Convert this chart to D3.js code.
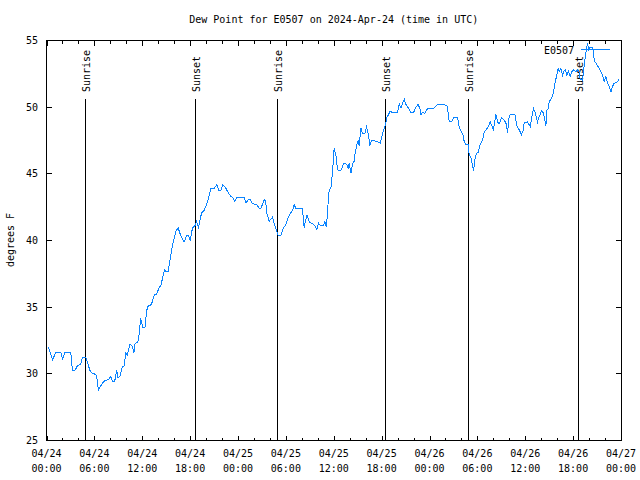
<!DOCTYPE html>
<html>
<head>
<meta charset="utf-8">
<script src="https://cdn.jsdelivr.net/npm/d3@7"></script>
<style>
  html, body { margin: 0; padding: 0; background: #fff; }
  svg { display: block; }
  text { font-family: "DejaVu Sans Mono", "Liberation Mono", monospace; font-size: 10px; fill: #000; }
</style>
</head>
<body>
<svg id="chart" width="640" height="480"></svg>
<script>
// ---- data ----
const title = "Dew Point for E0507 on 2024-Apr-24 (time in UTC)";
const yLabel = "degrees F";
const seriesName = "E0507";
// hours since 2024-04-24 00:00 UTC
const hours = [0.25,0.46,0.75,1.17,1.8,2.0,2.3,3.05,3.25,3.55,3.88,4.3,4.5,4.93,5.13,5.43,5.75,6.18,6.38,6.5,6.8,7.21,7.84,8.05,8.25,8.55,8.8,8.96,9.21,9.5,9.71,9.93,10.13,10.46,10.75,10.96,11.09,11.46,11.63,11.8,11.88,12.09,12.34,12.43,12.65,13.15,13.5,13.83,14.12,14.33,14.66,14.83,14.96,15.25,15.5,15.67,15.92,16.22,16.5,16.75,17.04,17.25,17.6,17.8,18.0,18.3,18.6,18.8,19.05,19.43,19.76,20.18,20.6,21.01,21.35,21.6,21.85,22.1,22.49,22.77,23.11,23.31,23.61,23.86,24.77,24.99,25.2,25.28,25.53,25.82,26.37,26.66,26.87,27.2,27.37,27.5,27.62,27.91,28.32,28.53,28.83,29.04,29.38,29.71,30.01,30.21,30.54,30.83,31.04,31.26,32.08,32.3,32.43,32.64,32.93,33.34,33.64,33.89,34.09,34.39,34.72,34.89,35.09,35.22,35.43,35.64,35.84,36.05,36.27,36.47,36.9,37.23,37.31,37.65,37.81,37.94,38.15,38.35,38.56,38.69,38.9,39.06,39.19,39.4,39.6,39.9,40.1,40.31,40.53,40.74,41.29,41.82,42.11,42.41,42.57,42.66,42.82,43.07,43.36,43.99,44.2,44.42,44.62,44.83,45.05,45.33,45.67,46.0,46.3,46.58,46.8,46.92,47.12,47.42,47.75,48.51,49.01,49.84,50.18,50.34,50.47,50.76,51.02,51.52,51.73,52.02,52.23,52.35,52.57,52.85,52.98,53.19,53.39,53.52,53.69,53.89,54.1,54.35,54.64,54.85,55.07,55.39,55.6,55.82,56.02,56.2,56.33,56.53,56.74,57.03,57.45,57.65,57.78,57.99,58.11,58.7,58.95,59.24,59.53,59.74,59.86,60.28,60.62,60.79,61.04,61.21,61.54,61.75,62.04,62.29,62.59,62.71,62.87,63.0,63.29,63.55,63.76,63.97,64.13,64.26,64.47,64.67,64.8,65.01,65.22,65.39,65.64,65.81,66.06,66.36,66.56,66.77,66.89,67.18,67.31,67.61,67.81,67.93,68.14,68.36,68.52,68.64,68.86,69.27,69.48,69.69,69.89,70.11,70.32,70.53,70.74,70.93,71.15,71.56,71.77];
const dewF = [32.0,31.6,31.05,31.6,31.6,31.1,31.6,31.6,30.25,30.25,30.6,30.75,31.2,31.2,30.9,30.25,30.05,29.95,29.5,28.75,29.1,29.45,29.6,29.8,29.45,29.45,30.3,29.7,29.8,30.55,30.55,31.55,31.4,32.25,32.05,31.6,32.25,32.4,33.05,34.2,33.9,33.45,33.45,34.1,35.05,35.2,35.9,36.0,36.5,36.6,37.5,37.8,37.7,37.7,38.6,39.25,40.0,40.7,40.95,40.5,40.1,39.9,40.4,40.4,40.0,40.95,41.1,41.4,41.0,42.05,42.25,42.9,43.9,43.9,44.2,43.75,43.75,44.2,43.9,43.6,43.3,43.25,42.95,43.25,43.25,42.85,42.95,43.1,43.1,42.75,42.7,42.4,42.4,42.95,43.1,42.75,42.0,41.45,41.75,41.3,40.75,40.4,40.4,40.95,41.2,41.6,42.0,42.25,42.7,42.4,42.4,40.95,41.4,41.9,41.4,41.25,41.1,40.8,41.3,41.1,41.1,41.4,41.0,42.25,43.8,43.9,45.1,46.9,46.4,45.3,45.25,45.75,45.8,45.7,45.4,45.8,45.05,45.75,45.95,46.6,47.2,47.45,47.1,48.45,48.05,48.05,48.5,48.05,47.1,47.5,47.45,47.3,48.0,48.55,48.9,49.25,49.4,49.7,49.6,49.6,50.25,49.95,50.3,50.6,50.2,49.95,49.6,49.6,50.0,50.2,49.9,49.45,49.6,49.55,49.9,49.9,50.2,50.2,50.1,49.6,48.9,48.9,49.2,49.2,48.45,48.1,47.9,47.4,47.2,47.2,46.4,46.25,45.6,45.25,46.1,46.55,46.6,47.2,47.5,48.1,48.3,48.55,48.9,48.6,48.3,49.0,49.45,48.9,48.75,49.2,48.95,48.7,48.1,49.3,49.45,49.45,48.6,48.3,47.95,48.25,48.8,48.9,48.55,49.15,49.9,49.65,48.9,49.3,49.7,49.55,48.6,49.75,49.9,50.4,50.65,51.15,51.9,52.45,52.9,52.65,52.9,52.4,52.65,52.8,52.4,52.7,52.3,52.65,52.8,52.65,52.8,52.6,52.1,52.0,52.75,54.15,54.8,54.3,54.5,54.5,54.3,53.5,53.3,52.9,52.65,52.4,51.95,52.3,51.8,51.55,51.15,51.55,51.8,51.9,52.15];
const sunEvents = [
  {label: "Sunrise", time: "2024-04-24T04:53:00Z"},
  {label: "Sunset",  time: "2024-04-24T18:40:00Z"},
  {label: "Sunrise", time: "2024-04-25T04:55:00Z"},
  {label: "Sunset",  time: "2024-04-25T18:32:00Z"},
  {label: "Sunrise", time: "2024-04-26T04:50:00Z"},
  {label: "Sunset",  time: "2024-04-26T18:38:00Z"}
];
const yTicks = [25, 30, 35, 40, 45, 50, 55];
const startTime = Date.UTC(2024, 3, 24, 0, 0);
const endTime = Date.UTC(2024, 3, 27, 0, 0);

// ---- drawing ----
const lineColor = "#0a84ff";
const svg = d3.select("#chart");
const L = 46.5, R = 621, T = 40.5, B = 440.5;

const x = d3.scaleUtc().domain([new Date(startTime), new Date(endTime)]).range([L, R]);
const y = d3.scaleLinear().domain([25, 55]).range([B, T]);

const data = hours.map((h, i) => ({t: new Date(startTime + h * 3600000), v: dewF[i]}));

// title
svg.append("text").attr("x", (L + R) / 2).attr("y", 19).attr("dy", "0.35em")
  .attr("text-anchor", "middle").text(title);

// y label
svg.append("text").attr("transform", "translate(10,240) rotate(-90)")
  .attr("text-anchor", "middle").attr("dy", "0.35em").text(yLabel);

const g = svg.append("g").attr("shape-rendering", "crispEdges");

// frame
g.append("rect").attr("x", L).attr("y", T).attr("width", R - L).attr("height", B - T)
  .attr("fill", "none").attr("stroke", "#000");

// x ticks
const minorTicks = d3.utcHour.every(2).range(new Date(startTime), new Date(endTime + 1));
const majorTicks = d3.utcHour.every(6).range(new Date(startTime), new Date(endTime + 1));
minorTicks.forEach(t => {
  const major = t.getUTCHours() % 6 === 0;
  const len = major ? 5 : 3;
  const xx = Math.round(x(t)) + 0.5;
  g.append("line").attr("x1", xx).attr("x2", xx).attr("y1", B).attr("y2", B - len).attr("stroke", "#000");
  g.append("line").attr("x1", xx).attr("x2", xx).attr("y1", T).attr("y2", T + len).attr("stroke", "#000");
});
const fmtD = d3.utcFormat("%m/%d"), fmtH = d3.utcFormat("%H:%M");
majorTicks.forEach(t => {
  const xx = x(t);
  svg.append("text").attr("x", xx).attr("y", 453).attr("dy", "0.35em").attr("text-anchor", "middle").text(fmtD(t));
  svg.append("text").attr("x", xx).attr("y", 468).attr("dy", "0.35em").attr("text-anchor", "middle").text(fmtH(t));
});

// y ticks
yTicks.forEach(v => {
  const yy = Math.round(y(v) - 0.5) + 0.5;
  g.append("line").attr("x1", L).attr("x2", L + 5).attr("y1", yy).attr("y2", yy).attr("stroke", "#000");
  g.append("line").attr("x1", R).attr("x2", R - 5).attr("y1", yy).attr("y2", yy).attr("stroke", "#000");
  svg.append("text").attr("x", 38).attr("y", y(v)).attr("dy", "0.35em").attr("text-anchor", "end").text(v);
});

// sunrise / sunset
sunEvents.forEach(e => {
  const t = new Date(e.time);
  const xx = Math.floor(x(t)) + 0.5;
  g.append("line").attr("x1", xx).attr("x2", xx).attr("y1", B).attr("y2", 99).attr("stroke", "#000");
  svg.append("text").attr("transform", `translate(${xx + 0.5},92) rotate(-90)`)
    .attr("text-anchor", "start").attr("dy", "0.35em").text(e.label);
});

// data line
const line = d3.line().x(d => x(d.t)).y(d => y(d.v));
svg.append("path").datum(data).attr("d", line).attr("fill", "none")
  .attr("stroke", lineColor).attr("stroke-width", 1).attr("shape-rendering", "crispEdges");

// legend
svg.append("text").attr("x", 574).attr("y", 50).attr("dy", "0.35em").attr("text-anchor", "end").text(seriesName);
g.append("line").attr("x1", 581).attr("x2", 610).attr("y1", 49.5).attr("y2", 49.5).attr("stroke", lineColor);
</script>
</body>
</html>
